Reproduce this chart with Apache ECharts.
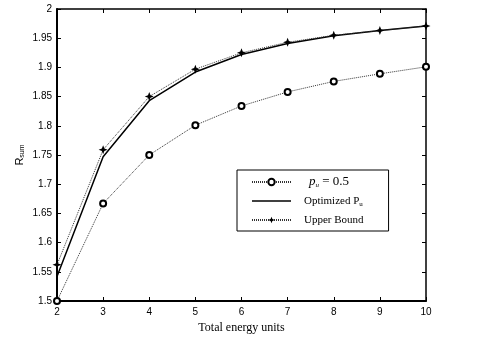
<!DOCTYPE html>
<html>
<head>
<meta charset="utf-8">
<script src="https://cdn.jsdelivr.net/npm/echarts@6/dist/echarts.min.js"></script>
<style>
  html, body { margin: 0; padding: 0; background: #fff; }
  #chart { width: 491px; height: 348px; }
</style>
</head>
<body>
<div id="chart"></div>
<script>
// energy units on x
const energyUnits = [2, 3, 4, 5, 6, 7, 8, 9, 10];
// R_sum for fixed p_u = 0.5
const fixedPu = [1.500, 1.667, 1.750, 1.801, 1.834, 1.858, 1.876, 1.889, 1.901];
// R_sum with optimized P_u
const optimizedPu = [1.542, 1.747, 1.843, 1.892, 1.922, 1.941, 1.954, 1.963, 1.971];
// upper bound
const upperBound = [1.562, 1.759, 1.850, 1.897, 1.925, 1.943, 1.955, 1.963, 1.971];

const seriesNames = ['pu', 'Optimized Pu', 'Upper Bound'];

const toPairs = vals => vals.map((v, i) => [energyUnits[i], v]);

// little 4-point star, like the matlab '+' marker thickened
const starPath = 'path://M5,0 L6.4,3.6 L10,5 L6.4,6.4 L5,10 L3.6,6.4 L0,5 L3.6,3.6 Z';

const chart = echarts.init(document.getElementById('chart'), null, { renderer: 'canvas' });

const tickFont = { fontFamily: 'Liberation Sans, Arial, sans-serif', fontSize: 10, color: '#000' };
const serif = 'Liberation Serif, Times New Roman, serif';

chart.setOption({
  animation: false,
  backgroundColor: '#fff',
  grid: { left: 57, right: 65, top: 9, bottom: 47 },
  legend: {
    orient: 'vertical',
    left: 237,
    top: 170,
    data: [
      { name: seriesNames[0] },
      // plain solid line in the legend, no marker
      { name: seriesNames[1], icon: 'path://M0,0 L39,0 L39,1.6 L0,1.6 Z' },
      { name: seriesNames[2] }
    ],
    itemWidth: 39,
    itemHeight: 8,
    itemGap: 5,
    padding: [5, 25, 4, 14],
    borderColor: '#000',
    borderWidth: 1,
    backgroundColor: '#fff',
    inactiveColor: '#000',
    formatter: name => {
      if (name === 'pu') return '{i|p}{s|u}{m| = 0.5}';
      if (name === 'Optimized Pu') return '{n|Optimized P}{s2|u}';
      return '{n|' + name + '}';
    },
    textStyle: {
      fontFamily: serif,
      fontSize: 11,
      lineHeight: 14,
      color: '#000',
      padding: [0, 0, 0, 8],
      rich: {
        i: { fontFamily: serif, fontStyle: 'italic', fontSize: 13, lineHeight: 14, color: '#000', padding: [0, 0, 0, 5] },
        s: { fontFamily: serif, fontStyle: 'italic', fontSize: 7, lineHeight: 14, color: '#000', verticalAlign: 'bottom', padding: [5, 0, 0, 0] },
        s2: { fontFamily: serif, fontSize: 7, lineHeight: 14, color: '#000', verticalAlign: 'bottom', padding: [4, 0, 0, 0] },
        m: { fontFamily: serif, fontSize: 13, lineHeight: 14, color: '#000' },
        n: { fontFamily: serif, fontSize: 11, lineHeight: 14, color: '#000' }
      }
    }
  },
  xAxis: [{
    type: 'value',
    min: 2, max: 10, interval: 1,
    name: 'Total energy units',
    nameLocation: 'middle',
    nameGap: 21,
    nameMoveOverlap: false,
    nameTextStyle: { fontFamily: serif, fontSize: 12, color: '#000' },
    axisLine: { lineStyle: { color: '#000', width: 2 } },
    axisTick: { inside: true, length: 4, lineStyle: { color: '#000', width: 1 } },
    axisLabel: Object.assign({ margin: 6 }, tickFont),
    splitLine: { show: false }
  }, {
    type: 'value',
    position: 'top',
    min: 2, max: 10, interval: 1,
    axisLine: { show: true, lineStyle: { color: '#000', width: 1.5 } },
    axisTick: { show: true, inside: true, length: 4, lineStyle: { color: '#000', width: 1 } },
    axisLabel: { show: false },
    splitLine: { show: false }
  }],
  yAxis: [{
    type: 'value',
    min: 1.5, max: 2, interval: 0.05,
    name: '{a|R}{b|sum}',
    nameLocation: 'middle',
    nameGap: 31,
    nameMoveOverlap: false,
    nameRotate: 90,
    nameTextStyle: {
      rich: {
        a: { fontFamily: 'Liberation Sans, Arial, sans-serif', fontSize: 11, color: '#000' },
        b: { fontFamily: 'Liberation Sans, Arial, sans-serif', fontSize: 7, color: '#000', verticalAlign: 'bottom', padding: [5, 0, 0, 0] }
      }
    },
    axisLine: { show: true, lineStyle: { color: '#000', width: 2 } },
    axisTick: { show: true, inside: true, length: 4, lineStyle: { color: '#000', width: 1 } },
    axisLabel: Object.assign({ margin: 5, formatter: v => String(+v.toFixed(2)) }, tickFont),
    splitLine: { show: false }
  }, {
    type: 'value',
    position: 'right',
    min: 1.5, max: 2, interval: 0.05,
    axisLine: { show: true, lineStyle: { color: '#000', width: 1.5 } },
    axisTick: { show: true, inside: true, length: 4, lineStyle: { color: '#000', width: 1 } },
    axisLabel: { show: false },
    splitLine: { show: false }
  }],
  series: [{
    name: seriesNames[0],
    type: 'line',
    data: toPairs(fixedPu),
    symbol: 'emptyCircle',
    symbolSize: 6,
    z: 3,
    lineStyle: { color: '#333', width: 1, type: [1, 1] },
    itemStyle: { color: '#000', borderColor: '#000', borderWidth: 1.3 }
  }, {
    name: seriesNames[1],
    type: 'line',
    data: toPairs(optimizedPu),
    symbol: 'none',
    z: 2,
    lineStyle: { color: '#000', width: 1.5 },
    itemStyle: { color: '#000' }
  }, {
    name: seriesNames[2],
    type: 'line',
    data: toPairs(upperBound),
    symbol: starPath,
    symbolSize: 9,
    z: 4,
    lineStyle: { color: '#333', width: 1, type: [1, 1] },
    itemStyle: { color: '#000', borderWidth: 0 }
  }]
});
</script>
</body>
</html>
